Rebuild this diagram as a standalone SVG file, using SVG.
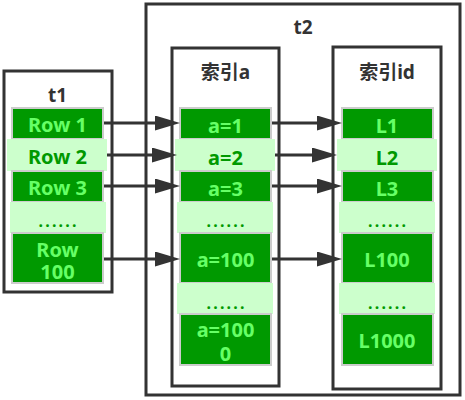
<svg xmlns="http://www.w3.org/2000/svg" width="465" height="400" viewBox="0 0 465 400">
<style>
.box{fill:#fff;stroke:#333;stroke-width:3}
.dk{fill:#009900;stroke:#cccccc;stroke-width:2}
.lt{fill:#ccffcc;stroke:none}
text{font-family:"Noto Sans","Noto Sans CJK SC",sans-serif;font-weight:bold;text-anchor:middle}
.ttl{font-size:19px;fill:#333}
.tw{font-size:20px;fill:#66ff66}
.tg{font-size:20px;fill:#009900}
.dots{font-size:16px;fill:#009900;letter-spacing:2.2px}
.cn{stroke:#333;stroke-width:3;fill:none;marker-end:url(#ah)}
</style>
<defs>
<marker id="ah" markerUnits="userSpaceOnUse" markerWidth="26" markerHeight="16" refX="5" refY="7.5" orient="auto">
<path d="M0,0 L25,7.5 L0,15 z" fill="#333"/>
</marker>
</defs>

<g id="t2">
<rect class="box" x="146" y="4" width="314" height="391"/>
<text class="ttl" x="303" y="34">t2</text>
</g>

<g id="idx-a">
<rect class="box" x="172" y="48" width="107" height="338"/>
<text class="ttl" x="225.5" y="79">索引a</text>
<g id="a1"><rect class="dk" x="180" y="108" width="91" height="31"/><text class="tw" x="225.5" y="132.5">a=1</text></g>
<g id="a2"><rect class="lt" x="175" y="139" width="100" height="32"/><text class="tg" x="225.5" y="164.5">a=2</text></g>
<g id="a3"><rect class="dk" x="180" y="171" width="91" height="31"/><text class="tw" x="225.5" y="196">a=3</text></g>
<g id="adots1"><rect class="lt" x="177" y="202" width="96" height="31"/><text class="dots" x="226.6" y="227">......</text></g>
<g id="a100"><rect class="dk" x="180" y="233" width="91" height="50"/><text class="tw" x="225.5" y="266.5">a=100</text></g>
<g id="adots2"><rect class="lt" x="177" y="283" width="96" height="31"/><text class="dots" x="226.6" y="308.5">......</text></g>
<g id="a1000"><rect class="dk" x="180" y="314" width="91" height="51"/><text class="tw" x="225.5" y="336.5">a=100<tspan x="225.5" y="360.5">0</tspan></text></g>
</g>

<g id="idx-id">
<rect class="box" x="333" y="47" width="108" height="342"/>
<text class="ttl" x="387" y="79">索引id</text>
<g id="L1"><rect class="dk" x="342" y="108" width="91" height="31"/><text class="tw" x="387" y="132.5">L1</text></g>
<g id="L2"><rect class="lt" x="337" y="139" width="100" height="32"/><text class="tg" x="387" y="164.5">L2</text></g>
<g id="L3"><rect class="dk" x="342" y="171" width="91" height="31"/><text class="tw" x="387" y="196">L3</text></g>
<g id="Ldots1"><rect class="lt" x="339" y="202" width="96" height="31"/><text class="dots" x="388.1" y="227">......</text></g>
<g id="L100"><rect class="dk" x="342" y="233" width="91" height="50"/><text class="tw" x="387" y="266.5">L100</text></g>
<g id="Ldots2"><rect class="lt" x="339" y="283" width="96" height="31"/><text class="dots" x="388.1" y="308.5">......</text></g>
<g id="L1000"><rect class="dk" x="342" y="314" width="91" height="51"/><text class="tw" x="387" y="348">L1000</text></g>
</g>

<g id="t1">
<rect class="box" x="4" y="71" width="108" height="221"/>
<text class="ttl" x="57.5" y="102">t1</text>
<g id="row1"><rect class="dk" x="12" y="108" width="91" height="31"/><text class="tw" x="57.5" y="132">Row 1</text></g>
<g id="row2"><rect class="lt" x="7" y="139" width="100" height="32"/><text class="tg" x="57.5" y="163.5">Row 2</text></g>
<g id="row3"><rect class="dk" x="12" y="171" width="91" height="31"/><text class="tw" x="57.5" y="195">Row 3</text></g>
<g id="tdots"><rect class="lt" x="10" y="202" width="96" height="31"/><text class="dots" x="58.6" y="226.5">......</text></g>
<g id="row100"><rect class="dk" x="12" y="233" width="91" height="50"/><text class="tw" x="57.5" y="256.5">Row<tspan x="57.5" y="279">100</tspan></text></g>
</g>

<g id="connectors">
<line class="cn" x1="104" y1="123" x2="160" y2="123"/>
<line class="cn" x1="107" y1="155" x2="157" y2="155"/>
<line class="cn" x1="104" y1="186" x2="160" y2="186"/>
<line class="cn" x1="104" y1="259" x2="160" y2="259"/>
<line class="cn" x1="272" y1="123" x2="322" y2="123"/>
<line class="cn" x1="275" y1="155" x2="317" y2="155"/>
<line class="cn" x1="272" y1="186" x2="322" y2="186"/>
<line class="cn" x1="272" y1="259" x2="322" y2="259"/>
</g>
</svg>
